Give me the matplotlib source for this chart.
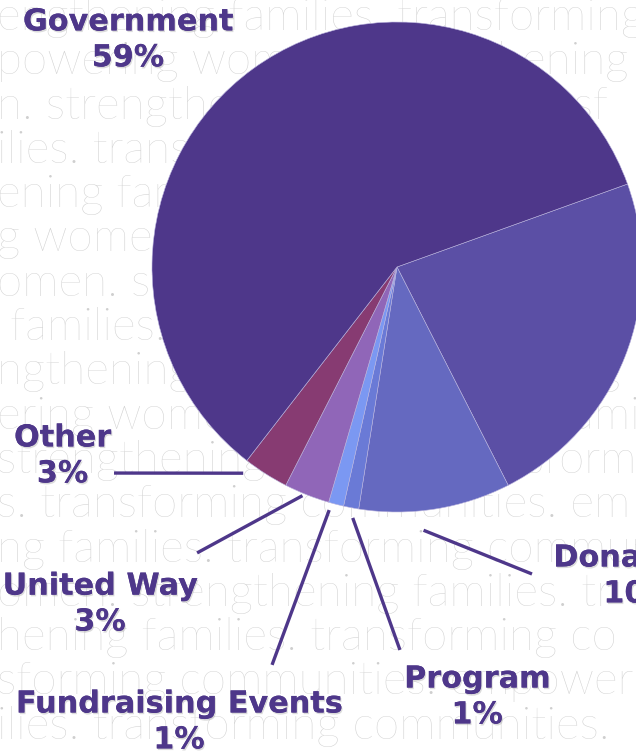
import numpy as np
import matplotlib
matplotlib.use("Agg")
import matplotlib.pyplot as plt
import matplotlib.patheffects as pe

# revenue sources, clockwise from the right-hand slice
sources = ["Grants", "Donations", "Program", "Fundraising Events", "United Way", "Other", "Government"]
shares = [23, 10, 1, 1, 3, 3, 59]
colors = ["#5b4fa5", "#6569c0", "#6a7ad6", "#7b98f2", "#9066b8", "#873b72", "#4e378a"]

# repeated slogan behind the chart, one string per row
bg_rows = [
    "engthening families. transforming",
    "powering women. strengthening f",
    "n. strengthening families. transf",
    "ilies. transforming communities",
    "ening families. transforming com",
    "g women. strengthening families.",
    "omen. strengthening families. tr",
    " families. transforming communit",
    "ngthening families. transforming",
    "ering women. strengthening famil",
    "strengthening families. transform",
    "s. transforming communities. em",
    "ng families. transforming commun",
    "omen. strengthening families. tr",
    "hening families. transforming co",
    "sforming communities. empower",
    "ilies. transforming communities.",
]

purple = "#4e378a"
W, H = 636, 753
fig = plt.figure(figsize=(W / 100, H / 100), dpi=100)
ax = fig.add_axes([0, 0, 1, 1])

for i, row in enumerate(bg_rows):
    ax.text(-0.004, 1 - (30 + 44.3 * i) / H, row, transform=ax.transAxes,
            family=["Lato", "DejaVu Sans"], weight="light", fontsize=33,
            color="#cfcfcf", va="baseline", ha="left", zorder=0)

wedges, _ = ax.pie(shares, colors=colors, startangle=19.8, counterclock=False, radius=1,
                   wedgeprops=dict(edgecolor="#b9b3dd", linewidth=0.4, zorder=2))

ax.set_xlim(-397 / 245, (W - 397) / 245)
ax.set_ylim((267 - H) / 245, 267 / 245)
ax.set_aspect("equal")
ax.axis("off")

# label centres, leader-line ends (data units, pie radius = 1)
label_pos = {
    "Government": (-1.098, 0.927),
    "Other": (-1.365, -0.771),
    "United Way": (-1.212, -1.376),
    "Fundraising Events": (-0.89, -1.857),
    "Program": (0.327, -1.755),
    "Donations": (0.99, -1.261),
}
line_end = {
    "Other": (-1.155, -0.841),
    "United Way": (-0.816, -1.167),
    "Fundraising Events": (-0.51, -1.624),
    "Program": (0.012, -1.563),
    "Donations": (0.551, -1.253),
}
# where the leader starts: radius and fraction across the wedge
line_r = {"Other": 1.05, "United Way": 1.01, "Fundraising Events": 1.03,
          "Program": 1.04, "Donations": 1.08}
line_frac = {"Other": 0.9, "United Way": 0.58, "Fundraising Events": 0.83,
             "Program": 0.28, "Donations": 0.59}

shadow = [pe.withSimplePatchShadow(offset=(0.8, -1.2), shadow_rgbFace="#999999", alpha=0.35), pe.Normal()]

for w, name, share in zip(wedges, sources, shares):
    if name not in label_pos:
        continue
    lx, ly = label_pos[name]
    ax.text(lx, ly, f"{name}\n{share}%", ha="center", va="center", fontsize=21.8,
            weight="bold", color=purple, linespacing=1.3, family="DejaVu Sans",
            path_effects=shadow, zorder=5)
    if name in line_end:
        ang = np.deg2rad(w.theta2 - line_frac[name] * (w.theta2 - w.theta1))
        r = line_r[name]
        ex, ey = line_end[name]
        ax.plot([r * np.cos(ang), ex], [r * np.sin(ang), ey], color=purple, lw=2.4,
                solid_capstyle="butt", zorder=4)

fig.savefig("out.png", dpi=100)
